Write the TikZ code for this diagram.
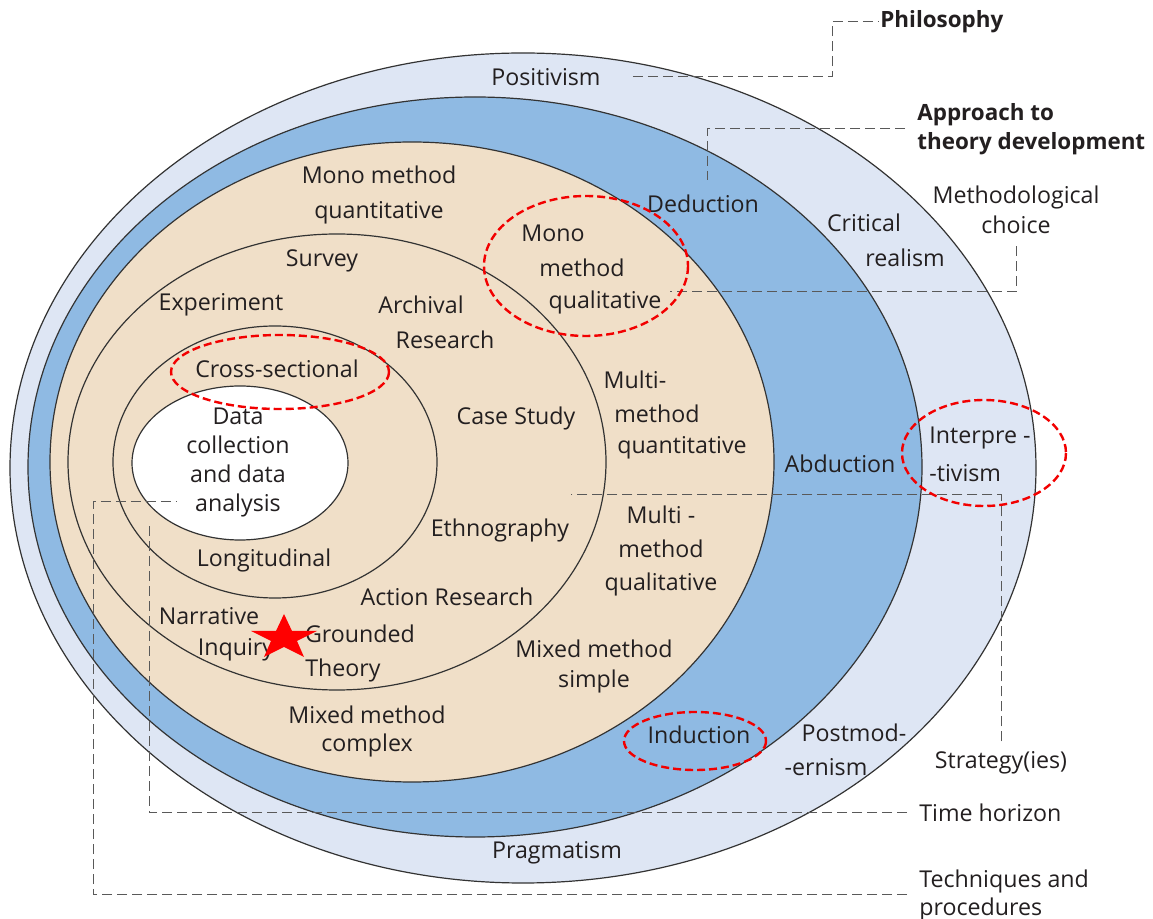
\documentclass[tikz,border=0pt]{standalone}
\usepackage{fontspec}
\setmainfont{Open Sans}
\usetikzlibrary{calc}

\definecolor{philoblue}{RGB}{222,230,244}
\definecolor{approachblue}{RGB}{143,186,227}
\definecolor{choicetan}{RGB}{240,223,200}
\definecolor{inktext}{RGB}{35,31,32}

\newcommand\lblfont[1]{\fontsize{11.6}{#1}\selectfont}

\begin{document}
\begin{tikzpicture}[x=0.5pt,y=-0.5pt,
    band/.style={draw=black!80,line width=0.6pt},
    lbl/.style={inner sep=1pt,text=inktext,align=center,font=\lblfont{17.5}},
    head/.style={lbl,anchor=west,align=left,font=\fontsize{11.2}{14.5}\selectfont\bfseries},
    leader/.style={draw=black!65,line width=0.5pt,dash pattern=on 5pt off 2.5pt},
    circled/.style={draw=red!95!black,line width=1.2pt,dash pattern=on 4pt off 2pt}]
\useasboundingbox (0,0) rectangle (1153,919);

% the layers, outside in
\draw[band,fill=philoblue] (523,468) ellipse [x radius=513,y radius=415];
\draw[band,fill=approachblue] (475,467) ellipse [x radius=447,y radius=370];
\draw[band,fill=choicetan] (412,462) ellipse [x radius=362,y radius=320];
\draw[band,fill=choicetan] (337,462) ellipse [x radius=269,y radius=228];
\draw[band,fill=choicetan] (275,462) ellipse [x radius=162,y radius=136];
\draw[band,fill=white] (240,463) ellipse [x radius=108,y radius=77];

% outer labels
\node[head] (philosophy) at (878,22) {Philosophy};
\node[head] (approach) at (915,129) {Approach to\\theory development};
\node[lbl,font=\lblfont{15}] (methodchoice) at (1016,210) {Methodological\\choice};
\node[lbl] (strategy) at (1001,763) {Strategy(ies)};
\node[lbl,anchor=west] (timehorizon) at (917,813) {Time horizon};
\node[lbl,anchor=west,align=left,font=\lblfont{14}] (techniques) at (917,895) {Techniques and\\procedures};

% philosophy ring
\node[lbl] (positivism) at (546,77) {Positivism};
\node[lbl] (pragmatism) at (557,853) {Pragmatism};
\node[lbl] (critical) at (864,223) {Critical};
\node[lbl] (realism) at (905,258) {realism};
\node[lbl,anchor=west] (interpre) at (927,438) {Interpre -};
\node[lbl,anchor=west] (tivism) at (927,473) {-tivism};
\node[lbl] (postmod) at (854,733) {Postmod-};
\node[lbl] (ernism) at (826,767) {-ernism};

% approach ring
\node[lbl] (deduction) at (703,204) {Deduction};
\node[lbl] (abduction) at (840,464) {Abduction};
\node[lbl] (induction) at (699,735) {Induction};

% methodological choice
\node[lbl] (monoquant) at (379,195) {Mono method\\quantitative};
\node[lbl] (mono) at (553,233) {Mono};
\node[lbl] (monomethod) at (582,268) {method};
\node[lbl] (monoqual) at (605,302) {qualitative};
\node[lbl] (multi) at (635,380) {Multi-};
\node[lbl] (multimethod) at (657,414) {method};
\node[lbl] (multiquant) at (682,448) {quantitative};
\node[lbl,font=\lblfont{16.8}] (multiqual) at (661,551) {Multi -\\method\\qualitative};
\node[lbl,font=\lblfont{15}] (mixedsimple) at (594,666) {Mixed method\\simple};
\node[lbl,font=\lblfont{14}] (mixedcomplex) at (367,731) {Mixed method\\complex};

% strategies
\node[lbl] (survey) at (322,261) {Survey};
\node[lbl] (experiment) at (221,305) {Experiment};
\node[lbl] (archival) at (421,305) {Archival};
\node[lbl] (research) at (445,340) {Research};
\node[lbl] (casestudy) at (516,418) {Case Study};
\node[lbl] (ethnography) at (500,530) {Ethnography};
\node[lbl] (actionresearch) at (447,597) {Action Research};
\node[lbl] (narrative) at (209,616) {Narrative};
\node[lbl] (inquiry) at (236,650) {Inquiry};
\node[lbl] (grounded) at (360,634) {Grounded};
\node[lbl] (theory) at (343,670) {Theory};

% time horizon and core
\node[lbl] (crosssect) at (277,369) {Cross-sectional};
\node[lbl] (longitudinal) at (264,560) {Longitudinal};
\node[lbl,font=\lblfont{14.5}] (datacore) at (238,463) {Data\\collection\\and data\\analysis};

% leader lines
\draw[leader,shorten <=15pt] (positivism.east) -- (832,77) |- (philosophy.west);
\draw[leader,shorten <=5pt] (approach.west) -| (707,180);
\draw[leader,shorten <=5pt] (methodchoice.south) |- (670,292);
\draw[leader,shorten <=4pt] (strategy.north) |- (571,495);
\draw[leader,shorten <=5pt] (timehorizon.west) -| (149,525);
\draw[leader,shorten <=5pt] (techniques.west) -| (93,502) -- (177,502);

% red marks
\draw[circled] (586,266) ellipse [x radius=102,y radius=70];
\draw[circled] (280,372) ellipse [x radius=109,y radius=37];
\draw[circled] (984,453) ellipse [x radius=82,y radius=53];
\draw[circled] (695,741) ellipse [x radius=71,y radius=29];
\fill[red] (284,614) -- (292,631) -- (317,631) -- (297,641) -- (304,657) -- (284,647)
  -- (264,657) -- (271,641) -- (251,631) -- (276,631) -- cycle;
\end{tikzpicture}
\end{document}
